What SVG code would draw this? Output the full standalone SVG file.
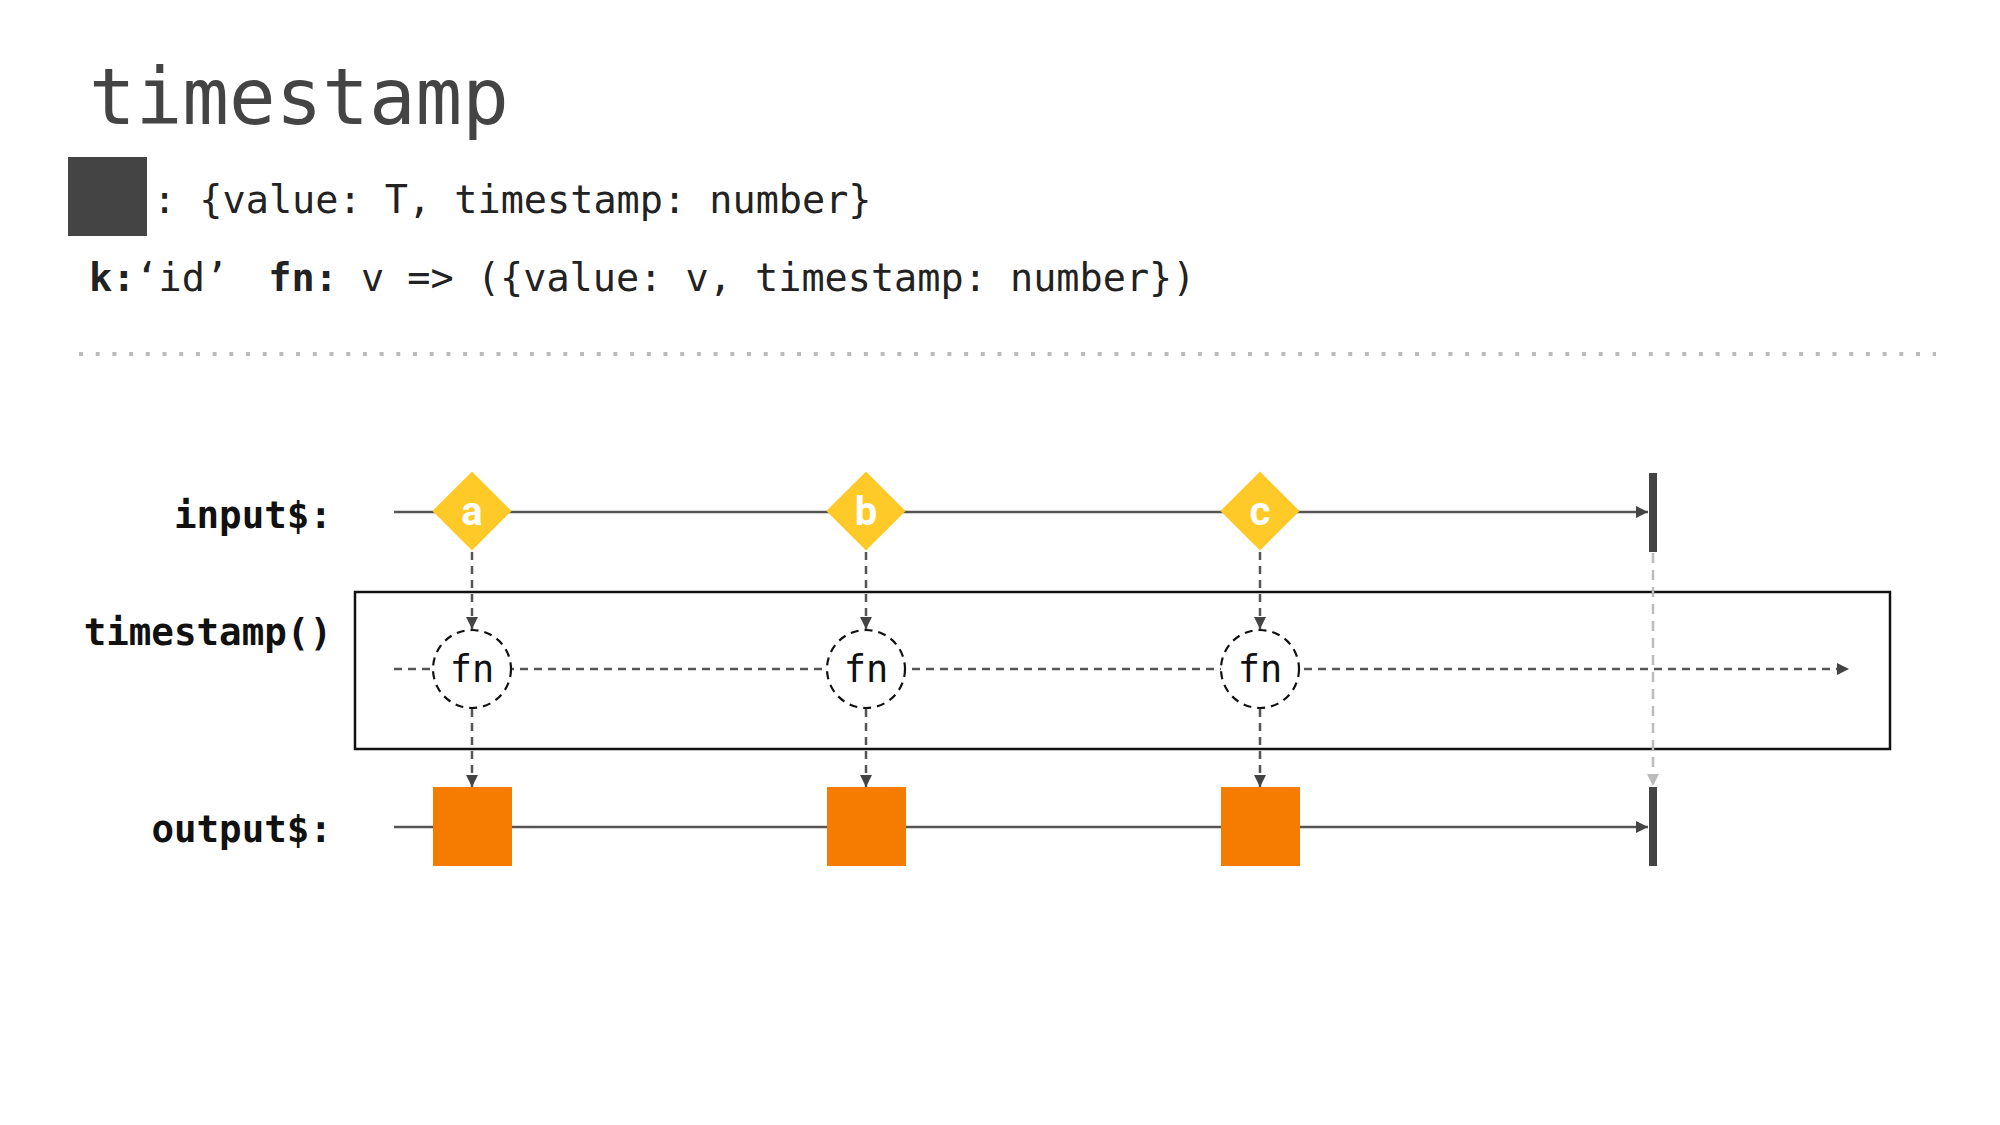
<svg xmlns="http://www.w3.org/2000/svg" width="2000" height="1125" viewBox="0 0 2000 1125">
<style>
.mono{font-family:"DejaVu Sans Mono","Liberation Mono",monospace;}
.title{font-size:77.5px;fill:#444;}
.sig{font-size:38.5px;fill:#222;}
.lbl{font-size:37.5px;font-weight:bold;fill:#111;text-anchor:end;}
.fn{font-size:37px;fill:#111;text-anchor:middle;}
.tl{stroke:#555;stroke-width:2.5;fill:none;}
.dash{stroke:#555;stroke-width:2.5;stroke-dasharray:8 6;fill:none;}
.gdash{stroke:#bbb;stroke-width:2.5;stroke-dasharray:10 7;fill:none;}
.dia{fill:#FFCA28;}
.dl{font-family:Roboto,"Liberation Sans",sans-serif;font-weight:bold;font-size:40px;fill:#fff;text-anchor:middle;}
.circ{fill:#fff;stroke:#111;stroke-width:2.2;stroke-dasharray:8 6;}
.sq{fill:#F57C00;}
.bar{fill:#444;}
</style>
<defs>
<marker id="ah" viewBox="0 0 10 10" refX="10" refY="5" markerWidth="12" markerHeight="12" markerUnits="userSpaceOnUse" orient="auto"><path d="M0,0 L10,5 L0,10 z" fill="#444"/></marker>
<marker id="ahg" viewBox="0 0 10 10" refX="10" refY="5" markerWidth="12" markerHeight="12" markerUnits="userSpaceOnUse" orient="auto"><path d="M0,0 L10,5 L0,10 z" fill="#bbb"/></marker>
</defs>
<rect width="2000" height="1125" fill="#fff"/>
<g id="header">
<text class="mono title" x="89" y="124">timestamp</text>
<rect x="68" y="157" width="79" height="79" fill="#444"/>
<text class="mono sig" x="153" y="213" xml:space="preserve">: {value: T, timestamp: number}</text>
<text class="mono sig" x="89" y="291" xml:space="preserve"><tspan font-weight="bold">k:</tspan>‘id’ <tspan dx="17" font-weight="bold">fn:</tspan> v =&gt; ({value: v, timestamp: number})</text>
<line x1="79" y1="354" x2="1936" y2="354" stroke="#bbb" stroke-width="4" stroke-dasharray="4 12.7"/>
</g>
<g id="labels">
<text class="mono lbl" x="332" y="528">input$:</text>
<text class="mono lbl" x="332" y="645">timestamp()</text>
<text class="mono lbl" x="332" y="842">output$:</text>
</g>
<g id="operator-box"><rect x="355" y="592" width="1535" height="157" fill="none" stroke="#111" stroke-width="2.5"/></g>
<g id="connectors">
<line class="tl" x1="394" y1="512" x2="1648" y2="512" marker-end="url(#ah)"/>
<line class="dash" x1="394" y1="669" x2="1849" y2="669" marker-end="url(#ah)"/>
<line class="tl" x1="394" y1="827" x2="1648" y2="827" marker-end="url(#ah)"/>
<line class="dash" x1="472" y1="552" x2="472" y2="629" marker-end="url(#ah)"/>
<line class="dash" x1="866" y1="552" x2="866" y2="629" marker-end="url(#ah)"/>
<line class="dash" x1="1260" y1="552" x2="1260" y2="629" marker-end="url(#ah)"/>
<line class="dash" x1="472" y1="709" x2="472" y2="787" marker-end="url(#ah)"/>
<line class="dash" x1="866" y1="709" x2="866" y2="787" marker-end="url(#ah)"/>
<line class="dash" x1="1260" y1="709" x2="1260" y2="787" marker-end="url(#ah)"/>
<line class="gdash" x1="1653" y1="553" x2="1653" y2="786" marker-end="url(#ahg)"/>
</g>
<g id="input-a"><rect class="dia" x="444" y="483" width="56" height="56" transform="rotate(45 472 511)"/><text class="dl" x="472" y="525">a</text></g>
<g id="input-b"><rect class="dia" x="838" y="483" width="56" height="56" transform="rotate(45 866 511)"/><text class="dl" x="866" y="525">b</text></g>
<g id="input-c"><rect class="dia" x="1232" y="483" width="56" height="56" transform="rotate(45 1260 511)"/><text class="dl" x="1260" y="525">c</text></g>
<g id="input-end"><rect class="bar" x="1649" y="473" width="8" height="79"/></g>
<g id="fn-a"><circle class="circ" cx="472" cy="669" r="39"/><text class="mono fn" x="472" y="682">fn</text></g>
<g id="fn-b"><circle class="circ" cx="866" cy="669" r="39"/><text class="mono fn" x="866" y="682">fn</text></g>
<g id="fn-c"><circle class="circ" cx="1260" cy="669" r="39"/><text class="mono fn" x="1260" y="682">fn</text></g>
<g id="output-a"><rect class="sq" x="433" y="787" width="79" height="79"/></g>
<g id="output-b"><rect class="sq" x="827" y="787" width="79" height="79"/></g>
<g id="output-c"><rect class="sq" x="1221" y="787" width="79" height="79"/></g>
<g id="output-end"><rect class="bar" x="1649" y="787" width="8" height="79"/></g>
</svg>
